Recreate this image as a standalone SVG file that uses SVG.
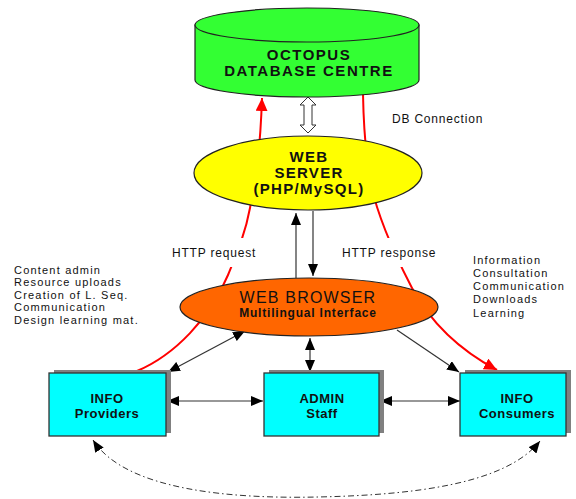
<svg xmlns="http://www.w3.org/2000/svg" width="576" height="499" viewBox="0 0 576 499">
<style>
.lbl{font-family:"Liberation Sans",Arial,sans-serif;font-size:12px;fill:#111;letter-spacing:0.8px}
.note{font-family:"Liberation Sans",Arial,sans-serif;font-size:11px;fill:#111;letter-spacing:1.2px}
.bx{fill:#00ffff;stroke:#333;stroke-width:1.3}
.sh{fill:#808080}
.bt{font-family:"Liberation Sans",Arial,sans-serif;font-size:13px;font-weight:bold;fill:#111;letter-spacing:0.5px;text-anchor:middle}
.big{font-family:"Liberation Sans",Arial,sans-serif;font-size:15px;font-weight:bold;fill:#111;text-anchor:middle}
.red{fill:none;stroke:#ff0000;stroke-width:2}
.blk{fill:none;stroke:#333;stroke-width:1.2}
</style>
<defs>
<marker id="ab" markerUnits="userSpaceOnUse" markerWidth="12" markerHeight="10" refX="12" refY="5" orient="auto-start-reverse" viewBox="0 0 12 10">
<path d="M0,0 L12,5 L0,10 Z" fill="#000"/>
</marker>
<marker id="ar" markerUnits="userSpaceOnUse" markerWidth="13" markerHeight="12" refX="13" refY="6" orient="auto" viewBox="0 0 13 12">
<path d="M0,0 L13,6 L0,12 Z" fill="#ff0000"/>
</marker>
</defs>
<g id="connectors">
<path class="red" d="M137,371 C175,355 210,318 228,275 C236,255 245,235 250,208 C254,185 260,160 262,98" marker-end="url(#ar)"/>
<path class="red" d="M363,94 C364,150 370,185 377,207 C385,232 400,265 412,288 C425,312 450,345 497,370" marker-end="url(#ar)"/>
<polygon points="308,97 316,105 312,105 312,125 316,125 308,133 300,125 304,125 304,105 300,105" fill="#fff" stroke="#333" stroke-width="1"/>
<path class="blk" d="M296,278 V213" marker-end="url(#ab)"/>
<path class="blk" d="M313,211 V276" marker-end="url(#ab)"/>
<path class="blk" d="M245,331 L168,372" marker-start="url(#ab)" marker-end="url(#ab)" stroke-width="1"/>
<path class="blk" d="M397,330 L459,372" marker-end="url(#ab)" stroke-width="1"/>
<path class="blk" d="M310,338 V372" marker-start="url(#ab)" marker-end="url(#ab)"/>
<path class="blk" d="M167,401 H263" marker-start="url(#ab)" marker-end="url(#ab)"/>
<path class="blk" d="M380,401 H460" marker-start="url(#ab)" marker-end="url(#ab)"/>
<path d="M93,440 C125,490 230,499 318,497 C410,495 505,485 540,441" fill="none" stroke="#333" stroke-width="1" stroke-dasharray="6,3,1.5,3" marker-start="url(#ab)" marker-end="url(#ab)"/>
<rect x="168" y="238" width="102" height="29" fill="#fff"/>
<rect x="338" y="238" width="106" height="29" fill="#fff"/>
<text class="lbl" x="172" y="257" letter-spacing="1.4">HTTP request</text>
<text class="lbl" x="342" y="257" letter-spacing="1.1">HTTP response</text>
<text class="lbl" x="392" y="123">DB Connection</text>
</g>
<g id="database">
<path d="M195,25 V80 A112,17 0 0 0 419,80 V25 Z" fill="#33ff33" stroke="#222" stroke-width="1.2"/>
<ellipse cx="307" cy="25" rx="112" ry="17" fill="#33ff33" stroke="#222" stroke-width="1.2"/>
<text class="big" x="309" y="59.5" letter-spacing="1.5">OCTOPUS</text>
<text class="big" x="309" y="75.5" letter-spacing="1.5">DATABASE CENTRE</text>
</g>
<g id="webserver">
<ellipse cx="308" cy="173" rx="114" ry="37" fill="#ffff00" stroke="#222" stroke-width="1.2"/>
<text class="big" x="309" y="162" letter-spacing="1.3">WEB</text>
<text class="big" x="309" y="178" letter-spacing="1.3">SERVER</text>
<text class="big" x="309" y="194" letter-spacing="1.3">(PHP/MySQL)</text>
</g>
<g id="webbrowser">
<ellipse cx="309" cy="307" rx="129" ry="29" fill="#ff6600" stroke="#222" stroke-width="1.2"/>
<text x="308" y="303" font-family="Liberation Sans, Arial, sans-serif" font-size="16" fill="#111" text-anchor="middle" letter-spacing="1.2">WEB BROWSER</text>
<text x="308" y="316.5" font-family="Liberation Sans, Arial, sans-serif" font-size="12" font-weight="bold" fill="#111" text-anchor="middle" letter-spacing="0.8">Multilingual Interface</text>
</g>
<g id="providers">
<rect class="sh" x="54" y="370" width="117" height="63"/>
<rect class="bx" x="49" y="373" width="117" height="63"/>
<text class="bt" x="107" y="403">INFO</text>
<text class="bt" x="107" y="418">Providers</text>
</g>
<g id="admin">
<rect class="sh" x="269" y="370" width="115" height="63"/>
<rect class="bx" x="264" y="373" width="115" height="63"/>
<text class="bt" x="322" y="403">ADMIN</text>
<text class="bt" x="322" y="418">Staff</text>
</g>
<g id="consumers">
<rect class="sh" x="465" y="370" width="106" height="63"/>
<rect class="bx" x="460" y="373" width="106" height="63"/>
<text class="bt" x="517" y="403">INFO</text>
<text class="bt" x="517" y="418">Consumers</text>
</g>
<g id="provider-notes">
<text class="note" x="14" y="273.5">Content admin</text>
<text class="note" x="14" y="286">Resource uploads</text>
<text class="note" x="14" y="298.5">Creation of L. Seq.</text>
<text class="note" x="14" y="311">Communication</text>
<text class="note" x="14" y="323.5">Design learning mat.</text>
</g>
<g id="consumer-notes">
<text class="note" x="473" y="264">Information</text>
<text class="note" x="473" y="277">Consultation</text>
<text class="note" x="473" y="290">Communication</text>
<text class="note" x="473" y="303">Downloads</text>
<text class="note" x="473" y="317">Learning</text>
</g>
</svg>
